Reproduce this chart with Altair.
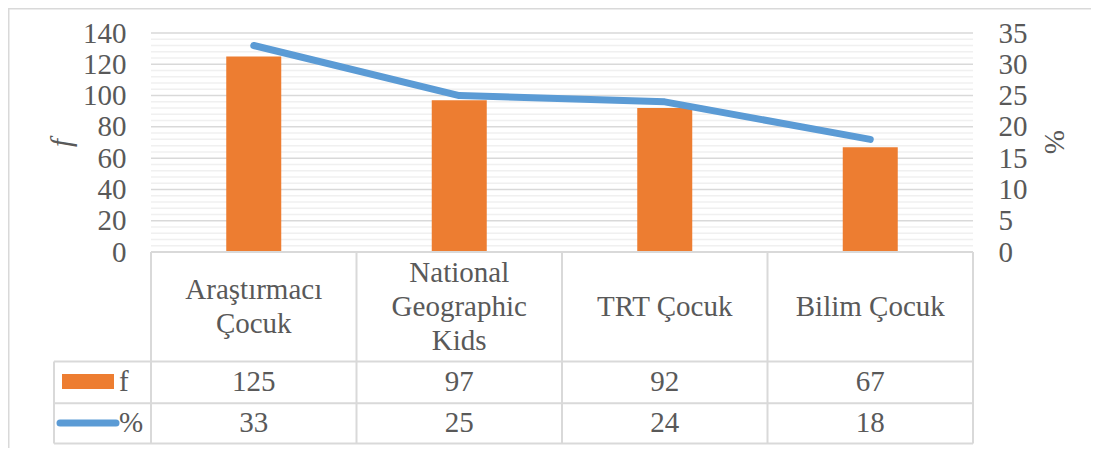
import altair as alt
import pandas as pd

# ---------------- data ----------------
categories = ["Araştırmacı\nÇocuk", "National\nGeographic\nKids", "TRT Çocuk", "Bilim Çocuk"]
f_values = [125, 97, 92, 67]
pct_values = [33, 25, 24, 18]
f_ticks = [0, 20, 40, 60, 80, 100, 120, 140]
pct_ticks = [0, 5, 10, 15, 20, 25, 30, 35]
row_labels = ["f", "%"]

# ---------------- layout (page pixels) ----------------
FONT = "Liberation Serif"
TXT = "#595959"
GRID = "#d9d9d9"
MINOR = "#f0f0f0"
ORANGE = "#ED7D31"
BLUE = "#5B9BD5"
FS = 29
LH = 34

ORIGIN = 8
W, H = 1083, 440
PLOT_L, PLOT_R = 151, 973
ZERO_Y, TOP_Y = 252, 33
F_MAX = 140
PCT_MAX = 35
PXU_X = (PLOT_R - PLOT_L) / len(categories)
PXU_Y = (ZERO_Y - TOP_Y) / F_MAX


def dx(p):
    return (p - PLOT_L) / PXU_X


def dy(p):
    return (ZERO_Y - p) / PXU_Y


x_dom = [dx(ORIGIN), dx(ORIGIN + W)]
y_dom = [dy(ORIGIN + H), dy(ORIGIN)]
ratio = F_MAX / PCT_MAX
pct_dom = [y_dom[0] / ratio, y_dom[1] / ratio]

xs = alt.Scale(domain=x_dom, nice=False, zero=False)
ys = alt.Scale(domain=y_dom, nice=False, zero=False)
ps = alt.Scale(domain=pct_dom, nice=False, zero=False)

n = len(categories)
bar_half = 27.5 / PXU_X

# table geometry
XL = dx(54)
R1, R2, R3 = dy(361.5), dy(403.3), dy(443.5)
HEAD_CY = 306.75
ROW_F_Y = dy(382.4)
ROW_P_Y = dy(423.4)

main = pd.DataFrame({
    "cat": categories,
    "f": f_values,
    "pct": pct_values,
    "c": [i + 0.5 for i in range(n)],
})
main["b0"] = main["c"] - bar_half
main["b1"] = main["c"] + bar_half
main["zero"] = 0
# first line of a multi-line label sits above the cell centre
main["head_y"] = [dy(HEAD_CY - (c.count("\n")) * LH / 2) for c in categories]
main["rf_y"] = ROW_F_Y
main["rp_y"] = ROW_P_Y

# gridlines
major = [v for v in f_ticks if v > 0]
minor = [v for v in range(4, F_MAX, 4) if v % 20 != 0]
grid_df = pd.DataFrame({
    "v": major + minor,
    "kind": ["major"] * len(major) + ["minor"] * len(minor),
    "x0": 0,
    "x1": n,
})

left_axis = alt.Axis(
    values=f_ticks, orient="left", offset=-(PLOT_L - ORIGIN),
    domain=False, ticks=False, grid=False, labelPadding=25,
    labelFont=FONT, labelFontSize=FS, labelColor=TXT, labelOverlap=False,
    labelFlush=False, labelAlign="right", labelBaseline="middle",
    title="f", titleFont=FONT, titleFontSize=FS, titleFontStyle="italic",
    titleFontWeight="normal", titleColor=TXT, titleAngle=270,
    titleX=61 - PLOT_L, titleY=142.5 - ORIGIN, titleAlign="center", titleBaseline="middle",
)

right_axis = alt.Axis(
    values=pct_ticks, orient="right", offset=-(ORIGIN + W - PLOT_R),
    domain=False, ticks=False, grid=False, labelPadding=25,
    labelFont=FONT, labelFontSize=FS, labelColor=TXT, labelOverlap=False,
    labelFlush=False, labelAlign="left", labelBaseline="middle",
    title="%", titleFont=FONT, titleFontSize=FS, titleFontWeight="normal",
    titleColor=TXT, titleAngle=90,
    titleX=1053 - PLOT_R, titleY=141.5 - ORIGIN, titleAlign="center", titleBaseline="middle",
)


def X(field):
    return alt.X(field, scale=xs, axis=None)


def Y(field):
    return alt.Y(field, scale=ys, axis=left_axis)


minor_rules = alt.Chart(grid_df).transform_filter("datum.kind == 'minor'").mark_rule(
    color=MINOR, strokeWidth=1.5
).encode(x=X("x0:Q"), x2="x1:Q", y=Y("v:Q"))

major_rules = alt.Chart(grid_df).transform_filter("datum.kind == 'major'").mark_rule(
    color=GRID, strokeWidth=1.5
).encode(x=X("x0:Q"), x2="x1:Q", y=Y("v:Q"))

bars = alt.Chart(main).mark_rect(color=ORANGE).encode(
    x=X("b0:Q"), x2="b1:Q", y=Y("zero:Q"), y2="f:Q",
)

# table lines
tl = [(0, n, 0, 0)]
for r in (R1, R2, R3):
    tl.append((XL, n, r, r))
for k in range(n + 1):
    tl.append((k, k, 0, R3))
tl.append((XL, XL, R1, R3))
tl_df = pd.DataFrame(tl, columns=["x", "x2", "y", "y2"])
table_lines = alt.Chart(tl_df).mark_rule(color=GRID, strokeWidth=2).encode(
    x=X("x:Q"), x2="x2:Q", y=Y("y:Q"), y2="y2:Q",
)

text_style = dict(font=FONT, fontSize=FS, color=TXT, baseline="middle")

head_text = alt.Chart(main).mark_text(align="center", lineBreak="\n", lineHeight=LH, **text_style).encode(
    x=X("c:Q"), y=Y("head_y:Q"), text="cat:N",
)
f_text = alt.Chart(main).mark_text(align="center", **text_style).encode(
    x=X("c:Q"), y=Y("rf_y:Q"), text="f:Q",
)
p_text = alt.Chart(main).mark_text(align="center", **text_style).encode(
    x=X("c:Q"), y=Y("rp_y:Q"), text="pct:Q",
)

# legend keys in table
key_df = pd.DataFrame({
    "label": row_labels,
    "tx": [dx(119), dx(119)],
    "ty": [ROW_F_Y, ROW_P_Y],
})
row_text = alt.Chart(key_df).mark_text(align="left", **text_style).encode(
    x=X("tx:Q"), y=Y("ty:Q"), text="label:N",
)
key_rect_df = pd.DataFrame({"x": [dx(62)], "x2": [dx(114)], "y": [dy(374)], "y2": [dy(389)]})
key_rect = alt.Chart(key_rect_df).mark_rect(color=ORANGE).encode(
    x=X("x:Q"), x2="x2:Q", y=Y("y:Q"), y2="y2:Q",
)
key_line_df = pd.DataFrame({"x": [dx(60)], "x2": [dx(116)], "y": [dy(423)]})
key_line = alt.Chart(key_line_df).mark_rule(color=BLUE, strokeWidth=7, strokeCap="round").encode(
    x=X("x:Q"), x2="x2:Q", y=Y("y:Q"),
)

# outer border (top and left visible)
border_df = pd.DataFrame({
    "x": [x_dom[0], x_dom[0]], "x2": [x_dom[1], x_dom[0]],
    "y": [y_dom[1], y_dom[0]], "y2": [y_dom[1], y_dom[1]],
})
border = alt.Chart(border_df).mark_rule(color=GRID, strokeWidth=3).encode(
    x=X("x:Q"), x2="x2:Q", y=Y("y:Q"), y2="y2:Q",
)

left = alt.layer(minor_rules, major_rules, bars, table_lines, head_text, f_text, p_text,
                 row_text, key_rect, key_line, border)

line = alt.Chart(main).mark_line(color=BLUE, strokeWidth=7, strokeCap="round", strokeJoin="round").encode(
    x=X("c:Q"),
    y=alt.Y("pct:Q", scale=ps, axis=right_axis),
)

chart = alt.layer(left, line).resolve_scale(y="independent").properties(
    width=W, height=H, autosize="none", padding=0, background="white"
).configure_view(stroke=None)

chart.save("out.html", embed_options={"renderer": "svg", "actions": False})
